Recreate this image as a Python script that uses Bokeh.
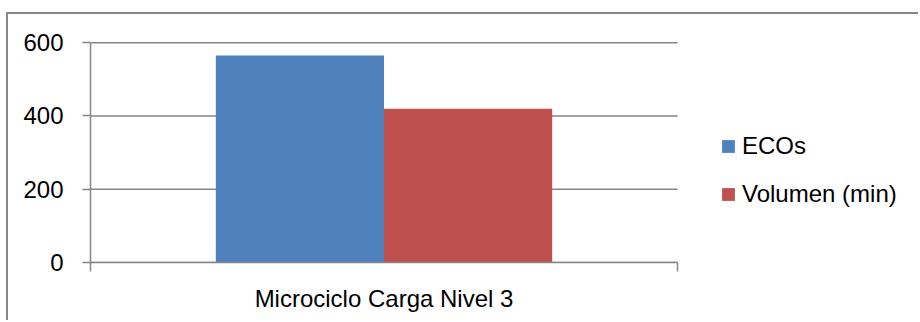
from bokeh.plotting import figure
from bokeh.models import Range1d, FixedTicker, Legend, LegendItem, ColumnDataSource
from bokeh.embed import file_html
from bokeh.resources import INLINE

categories = ["Microciclo Carga Nivel 3"]
series_names = ["ECOs", "Volumen (min)"]
ecos = [565]
volumen = [420]
y_ticks = [0, 200, 400, 600]

colors = ["#4F81BD", "#C0504D"]
FONT = "Liberation Sans"
GRAY = "#868686"

n = len(categories)
# category area spans 587 px of the 830 px wide frame; the rest holds the legend
x_end = n * 830 / 587
p = figure(width=912, height=308, output_backend="svg", toolbar_location=None,
           x_range=Range1d(0, x_end), y_range=Range1d(0, 606),
           min_border_left=82, min_border_right=0, min_border_top=26, min_border_bottom=60,
           margin=(12, 0, 0, 6),
           styles={"border-left": "2px solid #868686", "border-top": "2px solid #868686"})
p.outline_line_color = None
p.background_fill_color = "white"
p.border_fill_color = "white"
p.xgrid.grid_line_color = None
p.ygrid.grid_line_color = None

# horizontal gridlines over the category area
p.segment(x0=[0] * len(y_ticks), x1=[n] * len(y_ticks), y0=y_ticks, y1=y_ticks,
          line_color=GRAY, line_width=1.5)

bar_w = 0.2865
centers = [i + 0.5 for i in range(n)]
src1 = ColumnDataSource(dict(x=[c - bar_w / 2 for c in centers], top=ecos))
src2 = ColumnDataSource(dict(x=[c + bar_w / 2 for c in centers], top=volumen))
r1 = p.vbar(x="x", top="top", width=bar_w, source=src1, fill_color=colors[0], line_color=None)
r2 = p.vbar(x="x", top="top", width=bar_w, source=src2, fill_color=colors[1], line_color=None)

# y axis
p.yaxis.ticker = FixedTicker(ticks=y_ticks)
p.yaxis.bounds = (0, 600)
p.yaxis.axis_line_color = GRAY
p.yaxis.axis_line_width = 1.5
p.yaxis.major_tick_line_color = GRAY
p.yaxis.major_tick_line_width = 1.5
p.yaxis.major_tick_in = 0
p.yaxis.major_tick_out = 8
p.yaxis.minor_tick_line_color = None
p.yaxis.major_label_standoff = 19
p.yaxis.major_label_text_font = FONT
p.yaxis.major_label_text_font_size = "24px"
p.yaxis.major_label_text_color = "black"

# x axis: boundary ticks as minor ticks, category label at center
p.xaxis.ticker = FixedTicker(ticks=centers, minor_ticks=[float(i) for i in range(n + 1)])
p.xaxis.bounds = (0, n)
p.xaxis.major_label_overrides = {c: cat for c, cat in zip(centers, categories)}
p.xaxis.axis_line_color = GRAY
p.xaxis.axis_line_width = 1.5
p.xaxis.major_tick_line_color = None
p.xaxis.major_tick_in = 0
p.xaxis.major_tick_out = 0
p.xaxis.minor_tick_line_color = GRAY
p.xaxis.minor_tick_line_width = 1.5
p.xaxis.minor_tick_in = 0
p.xaxis.minor_tick_out = 9
p.xaxis.major_label_standoff = 13
p.xaxis.major_label_text_font = FONT
p.xaxis.major_label_text_font_size = "24px"
p.xaxis.major_label_text_color = "black"

legend = Legend(items=[LegendItem(label=series_names[0], renderers=[r1]),
                       LegendItem(label=series_names[1], renderers=[r2])],
                location=(630, 54), orientation="vertical")
legend.label_text_font = FONT
legend.label_text_font_size = "24px"
legend.label_text_color = "black"
legend.glyph_width = 16
legend.glyph_height = 16
legend.label_standoff = 6
legend.label_height = 20
legend.spacing = 20
legend.padding = 0
legend.margin = 0
legend.border_line_color = None
legend.background_fill_alpha = 0
p.add_layout(legend)

open("out.html", "w").write(file_html(p, INLINE))
